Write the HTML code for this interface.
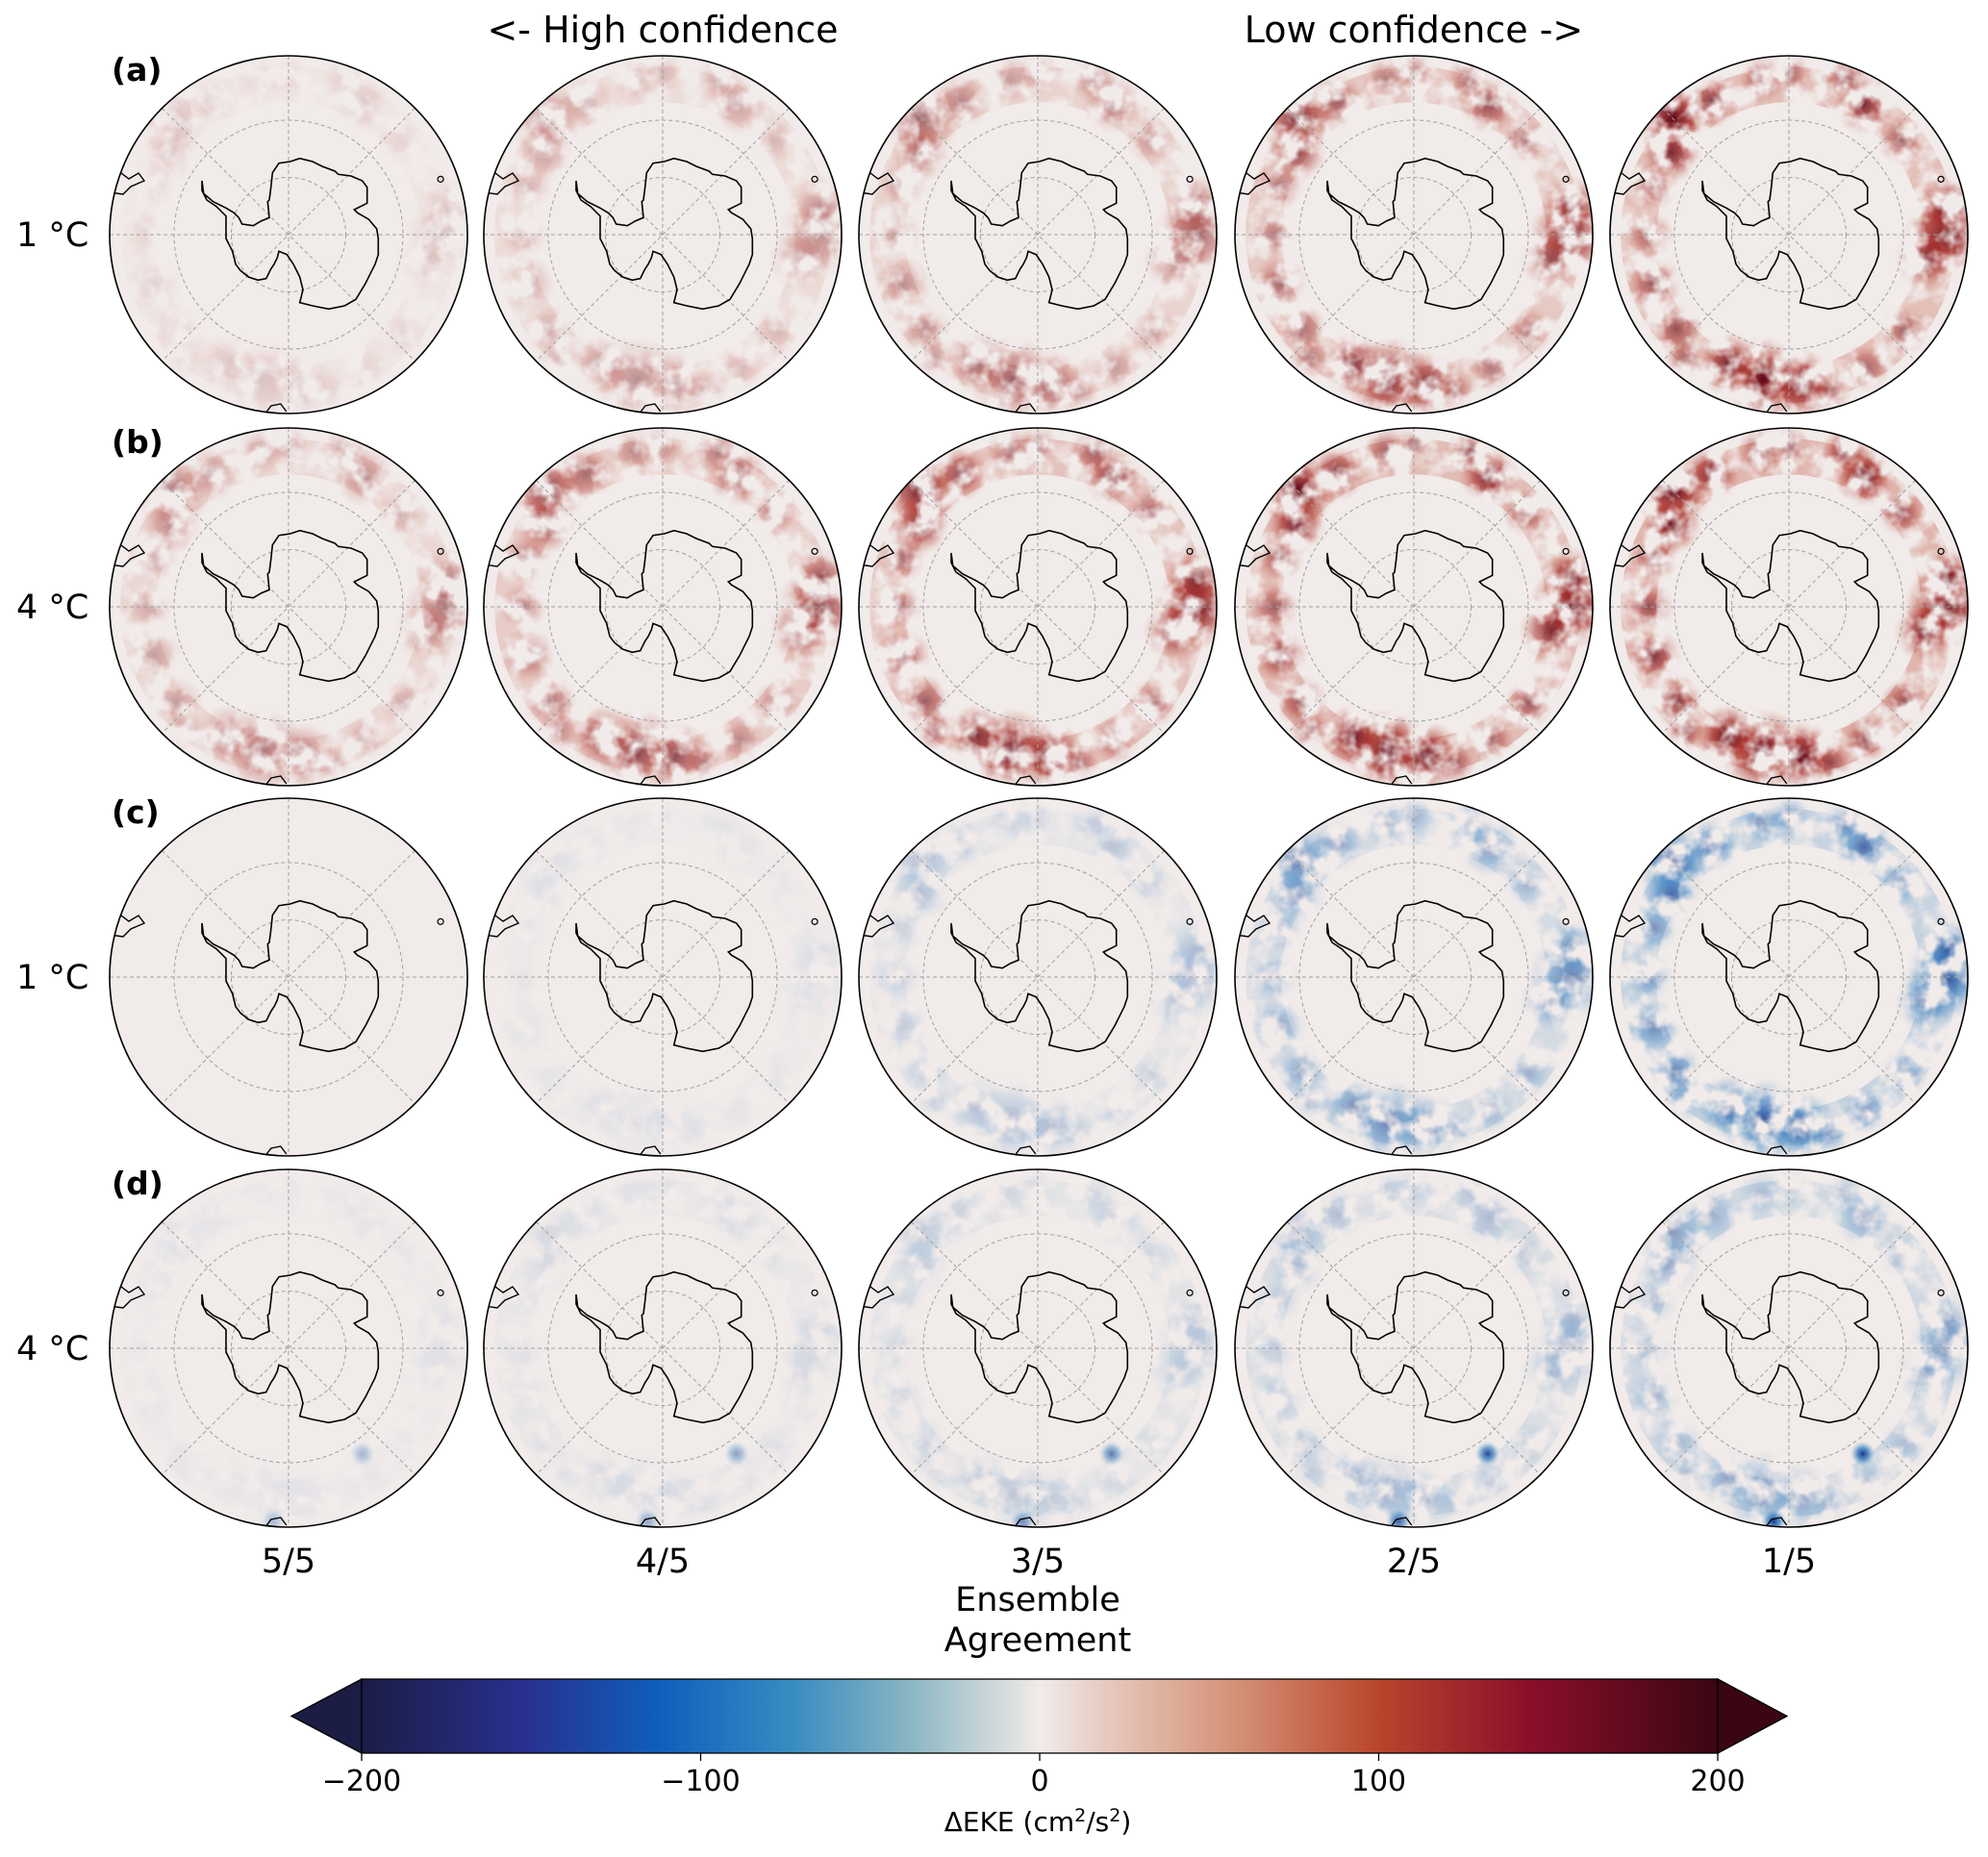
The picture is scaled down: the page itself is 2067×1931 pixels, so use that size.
<!DOCTYPE html>
<html><head><meta charset="utf-8">
<style>
html,body{margin:0;padding:0;background:#fff;}
body{width:2067px;height:1926px;overflow:hidden;font-family:"Liberation Sans","DejaVu Sans",sans-serif;}
svg text{font-family:"DejaVu Sans","Liberation Sans",sans-serif;fill:#000;}
</style></head>
<body>
<svg id="fig" width="2067" height="1926" viewBox="0 0 2067 1926" xmlns="http://www.w3.org/2000/svg">
<defs>
<linearGradient id="cbgrad" x1="0" x2="1" y1="0" y2="0">
<stop offset="0" stop-color="#1b1d45"/>
<stop offset="0.12" stop-color="#28308f"/>
<stop offset="0.22" stop-color="#0f5fbc"/>
<stop offset="0.32" stop-color="#3a8dc2"/>
<stop offset="0.40" stop-color="#86b4c3"/>
<stop offset="0.47" stop-color="#d3dadb"/>
<stop offset="0.5" stop-color="#f1ecea"/>
<stop offset="0.55" stop-color="#e6c9bd"/>
<stop offset="0.65" stop-color="#d38e73"/>
<stop offset="0.75" stop-color="#b9452c"/>
<stop offset="0.86" stop-color="#8c0f2a"/>
<stop offset="1" stop-color="#3a0612"/>
</linearGradient>
<radialGradient id="gred"><stop offset="0" stop-color="#5e0616" stop-opacity="1"/><stop offset="0.5" stop-color="#a3231f" stop-opacity="0.7"/><stop offset="1" stop-color="#d58a72" stop-opacity="0"/></radialGradient>
<radialGradient id="gblue"><stop offset="0" stop-color="#15358a" stop-opacity="1"/><stop offset="0.5" stop-color="#2a78c0" stop-opacity="0.7"/><stop offset="1" stop-color="#8bb6cc" stop-opacity="0"/></radialGradient>
</defs>
<g id="panels"></g>
<text x="689" y="44" font-size="38" text-anchor="middle">&lt;- High confidence</text>
<text x="1470" y="44" font-size="38" text-anchor="middle">Low confidence -&gt;</text>
<g id="rowlabels"></g>
<g id="collabels"></g>
<text x="1079" y="1675" font-size="35" text-anchor="middle">Ensemble</text>
<text x="1079" y="1717" font-size="35" text-anchor="middle">Agreement</text>
<g id="colorbar"></g>
</svg>
<script>
const NS="http://www.w3.org/2000/svg";
const colLabels=["5/5","4/5","3/5","2/5","1/5"];
const rowTags=["(a)","(b)","(c)","(d)"];
const rowTemps=["1 °C","4 °C","1 °C","4 °C"];
const rowSign=["red","red","blue","blue"];
const redA=[0.15,0.35,0.55,0.8,1.0];
const redB=[0.45,0.7,0.9,1.05,1.2];
const blueC=[0.0,0.07,0.25,0.55,0.85];
const blueD=[0.08,0.15,0.28,0.45,0.65];
const cbTicks=[-200,-100,0,100,200];
// blobs: angle(deg), radius fraction, size fraction, weight
const blobAng=[100,85,115,225,215,240,0,10,350,300,290,160,180,140,60,40,260,200,130,320,75,270];
const blobRad=[0.82,0.84,0.8,0.92,0.8,0.86,0.88,0.78,0.9,0.84,0.92,0.8,0.78,0.82,0.86,0.84,0.88,0.8,0.9,0.82,0.9,0.9];
const blobSize=[0.24,0.2,0.18,0.22,0.17,0.16,0.24,0.18,0.18,0.17,0.14,0.16,0.14,0.15,0.14,0.14,0.14,0.14,0.12,0.14,0.12,0.12];
const blobW=[1,0.9,0.85,1,0.8,0.7,1,0.7,0.8,0.8,0.6,0.6,0.5,0.6,0.5,0.5,0.5,0.5,0.5,0.5,0.5,0.5];
// row d extra hotspots
const hotAng=[55,95];
const hotRad=[0.72,0.97];
const hotW=[1.6,1.3];
const cx=[300,689,1079,1470,1860], cy=[244,631,1016,1402], R=186;
const ant=[[55,120],[60,160],[90,185],[130,205],[155,220],[170,235],[180,255],[215,260],[240,245],[265,235],[260,185],[265,180],[270,140],[275,95],[295,65],[330,60],[360,50],[400,60],[430,75],[470,90],[480,100],[520,105],[555,120],[570,140],[570,190],[530,210],[540,220],[575,240],[600,270],[605,300],[605,350],[595,380],[580,410],[565,440],[535,490],[500,510],[450,520],[400,510],[360,500],[370,460],[360,420],[340,380],[320,350],[295,340],[290,360],[280,380],[270,395],[255,425],[230,430],[200,420],[175,400],[160,380],[150,340],[130,300],[130,260],[130,230],[100,200],[70,180],[55,150]];
function el(t,a,p){const e=document.createElementNS(NS,t);for(const k in a)e.setAttribute(k,a[k]);p.appendChild(e);return e;}
const defs=document.querySelector('defs');
const panels=document.getElementById('panels');
for(let r=0;r<4;r++)for(let c=0;c<5;c++){
 const X=cx[c],Y=cy[r];
 const g=el('g',{},panels);
 
 
 const cid='clip'+r+c;
 const cp=el('clipPath',{id:cid},g);el('circle',{cx:X,cy:Y,r:R},cp);
 const fid='nf'+r+c, mid='nm'+r+c;
 const f=el('filter',{id:fid,x:X-R,y:Y-R,width:2*R,height:2*R,filterUnits:'userSpaceOnUse'},defs);
 el('feTurbulence',{type:'fractalNoise',baseFrequency:'0.045',numOctaves:'3',seed:String(3+r*7+c*13)},f);
 el('feColorMatrix',{type:'matrix',values:'0 0 0 0 1  0 0 0 0 1  0 0 0 0 1  3.4 0 0 0 -1.2'},f);
 const m=el('mask',{id:mid,maskUnits:'userSpaceOnUse',x:X-R,y:Y-R,width:2*R,height:2*R},defs);
 el('rect',{x:X-R,y:Y-R,width:2*R,height:2*R,fill:'#fff',filter:'url(#'+fid+')'},m);
 const inner=el('g',{'clip-path':'url(#'+cid+')'},g);
 el('circle',{cx:X,cy:Y,r:R,fill:'#f1ebea'},inner);
 const inten=[redA,redB,blueC,blueD][r][c];
 const red=rowSign[r]==='red';
 const layer=el('g',{mask:'url(#'+mid+')'},inner);
 el('circle',{cx:X,cy:Y,r:R*0.84,fill:'none',stroke:red?'#c45a45':'#4b8dc4','stroke-width':R*0.2,opacity:Math.min(0.45,inten*0.3)},layer);
 for(let i=0;i<blobAng.length;i++){
  let w=blobW[i]*(r===3?0.6:1);
  const a=blobAng[i]*Math.PI/180;
  const b=el('circle',{cx:X+Math.cos(a)*blobRad[i]*R,cy:Y+Math.sin(a)*blobRad[i]*R,r:blobSize[i]*R,fill:red?'url(#gred)':'url(#gblue)',opacity:Math.min(1,inten*w)},layer);
  
  
 }
 if(r===3){
  for(let i=0;i<hotAng.length;i++){
   const a=hotAng[i]*Math.PI/180;
   const b=el('circle',{cx:X+Math.cos(a)*hotRad[i]*R,cy:Y+Math.sin(a)*hotRad[i]*R,r:0.07*R,fill:'url(#gblue)',opacity:Math.min(1,inten*hotW[i]+0.2)},inner);
   
   
  }
 }
 const gs={fill:'none',stroke:'#a0a0a0','stroke-width':1,'stroke-dasharray':'4 3'};
 el('circle',Object.assign({cx:X,cy:Y,r:R*0.32},gs),inner);
 el('circle',Object.assign({cx:X,cy:Y,r:R*0.64},gs),inner);
 for(let k=0;k<4;k++){const a=k*Math.PI/4;el('line',Object.assign({x1:X-Math.cos(a)*R,y1:Y-Math.sin(a)*R,x2:X+Math.cos(a)*R,y2:Y+Math.sin(a)*R},gs),inner);}
 const pts=ant.map(p=>(X+(p[0]-325)/3).toFixed(1)+','+(Y+(p[1]-288)/3).toFixed(1)).join(' ');
 const pg=el('polygon',{points:pts,fill:'none',stroke:'#000','stroke-width':1.6},inner);
 
 
 el('path',{d:`M${X-R} ${Y-60} l12 -4 l8 6 l10 -6 l6 8 l-14 6 l-8 8 l-14 -2`,fill:'none',stroke:'#000','stroke-width':1.4},inner);
 el('path',{d:`M${X-R*0.13} ${Y+R} l6 -8 l10 -2 l6 8`,fill:'none',stroke:'#000','stroke-width':1.4},inner);
 el('circle',{cx:X+R*0.85,cy:Y-R*0.31,r:3,fill:'none',stroke:'#000','stroke-width':1.2},inner);
 el('circle',{cx:X,cy:Y,r:R,fill:'none',stroke:'#000','stroke-width':1.6},g);
}
const rl=document.getElementById('rowlabels');
for(let r=0;r<4;r++){
 const t=el('text',{x:116,y:cy[r]-160,'font-size':33,'font-weight':'bold'},rl);t.textContent=rowTags[r];
 
 const u=el('text',{x:17,y:cy[r]+12,'font-size':35},rl);u.textContent=rowTemps[r];
 
}
const cl=document.getElementById('collabels');
for(let c=0;c<5;c++){
 const t=el('text',{x:cx[c],y:1635,'font-size':35,'text-anchor':'middle'},cl);t.textContent=colLabels[c];
 
}
const cb=document.getElementById('colorbar');
const x0=376,x1=1786,yT=1746,yB=1823;
const xs=v=>x0+(v+200)/400*(x1-x0);
el('polygon',{points:`${x0},${yT} ${x0},${yB} 303,${(yT+yB)/2}`,fill:'#1b1d45',stroke:'#000','stroke-width':1.3},cb);
el('polygon',{points:`${x1},${yT} ${x1},${yB} 1858,${(yT+yB)/2}`,fill:'#3a0612',stroke:'#000','stroke-width':1.3},cb);
el('rect',{x:x0,y:yT,width:x1-x0,height:yB-yT,fill:'url(#cbgrad)',stroke:'#000','stroke-width':1.3},cb);
cbTicks.forEach(v=>{
 el('line',{x1:xs(v),x2:xs(v),y1:yB,y2:yB+8,stroke:'#000','stroke-width':1.3},cb);
 const t=el('text',{x:xs(v),y:1862,'font-size':30,'text-anchor':'middle'},cb);t.textContent=(v<0?'\u2212'+(-v):''+v);
 
});
const ct=el('text',{x:1079,y:1904,'font-size':28,'text-anchor':'middle'},cb);

ct.innerHTML='ΔEKE (cm<tspan dy="-10" font-size="19">2</tspan><tspan dy="10">/s</tspan><tspan dy="-10" font-size="19">2</tspan><tspan dy="10">)</tspan>';
</script>
</body></html>
